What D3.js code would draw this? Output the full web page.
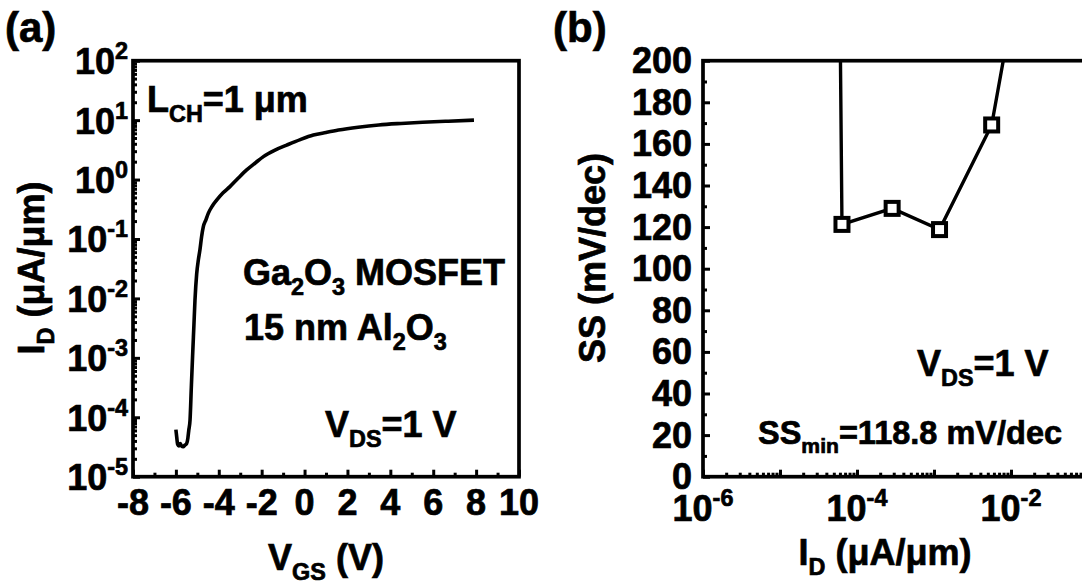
<!DOCTYPE html>
<html>
<head>
<meta charset="utf-8">
<script src="https://cdn.jsdelivr.net/npm/d3@7"></script>
<style>
  body { margin: 0; background: white; }
  svg { display: block; }
  text { font-family: Arial, "Liberation Sans", sans-serif; font-weight: bold; fill: black; stroke: black; stroke-width: 0.7px; }
</style>
</head>
<body>
<div id="chart"></div>
<script>
// (a) transfer curve, V_DS = 1 V
var vgs = [-6.00, -5.96, -5.92, -5.86, -5.80, -5.74, -5.66, -5.58, -5.50, -5.44, -5.40,
  -5.34, -5.28, -5.22, -5.16, -5.11, -5.03, -4.95, -4.88, -4.80, -4.72, -4.60, -4.49,
  -4.30, -4.10, -3.80, -3.48, -3.10, -2.70, -2.30, -1.92, -1.40, -0.83, -0.20, 0.41,
  1.00, 1.58, 2.50, 3.46, 4.50, 5.50, 6.70, 7.90];
var idCurrent = [6.2e-5, 4.6e-5, 3.5e-5, 3.3e-5, 3.6e-5, 3.3e-5, 3.2e-5, 3.4e-5, 3.6e-5, 4.5e-5, 6.0e-5,
  9.0e-5, 3.2e-4, 1.1e-3, 3.5e-3, 9.3e-3, 0.026, 0.045, 0.065, 0.11, 0.161, 0.21, 0.27,
  0.36, 0.45, 0.60, 0.76, 1.05, 1.45, 1.90, 2.43, 3.10, 3.80, 4.70, 5.60,
  6.20, 6.80, 7.60, 8.30, 8.80, 9.20, 9.60, 10.0];

// (b) subthreshold swing vs drain current
var ssCurrent = [5.83e-5, 6.38e-5, 2.86e-4, 1.18e-3, 5.61e-3, 9.7e-3];
var ssValue = [279, 121.3, 129.0, 118.8, 169.1, 218];

var leftXTicks = [-8, -6, -4, -2, 0, 2, 4, 6, 8, 10];
var leftYDecades = [-5, -4, -3, -2, -1, 0, 1, 2];
var rightXDecades = [-6, -5, -4, -3, -2, -1];
var rightXLabelDecades = [-6, -4, -2];
var rightYTicks = [0, 20, 40, 60, 80, 100, 120, 140, 160, 180, 200];

var W = 1082, H = 587;
var fs = 36;
var plotTop = 60.7, plotBottom = 476.7;
var panelA = { left: 133, right: 519 };
var panelB = { left: 703, right: 1088 };

var svg = d3.select("#chart").append("svg")
  .attr("width", W)
  .attr("height", H);

// write text with sub/superscript parts
function richText(g, x, y, parts, size, anchor) {
  var t = g.append("text")
    .attr("x", x)
    .attr("y", y)
    .attr("font-size", size)
    .attr("text-anchor", anchor || "start");
  var shift = 0;
  parts.forEach(function(p) {
    var off = p.sub ? size * 0.28 : (p.sup ? -size * 0.42 : 0);
    t.append("tspan")
      .attr("dy", off - shift)
      .attr("font-size", (p.sub || p.sup) ? size * 0.65 : size)
      .text(p.t);
    shift = off;
  });
  return t;
}

function minorLog(decades) {
  var out = [];
  decades.slice(0, -1).forEach(function(d) {
    for (var k = 2; k <= 9; k++) out.push(k * Math.pow(10, d));
  });
  return out;
}

function styleTicks(g) {
  g.select(".domain").remove();
  g.selectAll("line").attr("stroke", "black").attr("stroke-width", 3);
}

// ---------- panel (a) ----------
var xA = d3.scaleLinear().domain([-8, 10]).range([panelA.left, panelA.right]);
var yA = d3.scaleLog().domain([1e-5, 1e2]).range([plotBottom, plotTop]);

var gA = svg.append("g");

gA.append("g")
  .attr("transform", "translate(0," + plotBottom + ")")
  .call(d3.axisBottom(xA).tickValues(leftXTicks).tickSize(-7).tickFormat(""))
  .call(styleTicks);
gA.append("g")
  .attr("transform", "translate(0," + plotBottom + ")")
  .call(d3.axisBottom(xA).tickValues(d3.range(-7, 10, 2)).tickSize(-4).tickFormat(""))
  .call(styleTicks);
gA.append("g")
  .attr("transform", "translate(" + panelA.left + ",0)")
  .call(d3.axisLeft(yA).tickValues(leftYDecades.map(function(d) { return Math.pow(10, d); })).tickSize(-7).tickFormat(""))
  .call(styleTicks);
gA.append("g")
  .attr("transform", "translate(" + panelA.left + ",0)")
  .call(d3.axisLeft(yA).tickValues(minorLog(leftYDecades)).tickSize(-4).tickFormat(""))
  .call(styleTicks);

gA.append("rect")
  .attr("x", panelA.left)
  .attr("y", plotTop)
  .attr("width", panelA.right - panelA.left)
  .attr("height", plotBottom - plotTop)
  .attr("fill", "none")
  .attr("stroke", "black")
  .attr("stroke-width", 3.7);

leftXTicks.forEach(function(v) {
  gA.append("text")
    .attr("x", xA(v))
    .attr("y", 515)
    .attr("font-size", fs)
    .attr("text-anchor", "middle")
    .text(v);
});
leftYDecades.forEach(function(d) {
  richText(gA, 128, yA(Math.pow(10, d)) + 13.5, [{ t: "10" }, { t: String(d), sup: true }], fs, "end");
});

var lineA = d3.line()
  .x(function(d, i) { return xA(vgs[i]); })
  .y(function(d, i) { return yA(idCurrent[i]); })
  .curve(d3.curveMonotoneX);

gA.append("path")
  .attr("d", lineA(vgs))
  .attr("fill", "none")
  .attr("stroke", "black")
  .attr("stroke-width", 3.6)
  .attr("stroke-linejoin", "round");

richText(gA, 5, 42, [{ t: "(a)" }], 42);
richText(gA, 147, 112, [{ t: "L" }, { t: "CH", sub: true }, { t: "=1 μm" }], fs);
richText(gA, 243, 285, [{ t: "Ga" }, { t: "2", sub: true }, { t: "O" }, { t: "3", sub: true }, { t: " MOSFET" }], fs);
richText(gA, 244, 340, [{ t: "15 nm Al" }, { t: "2", sub: true }, { t: "O" }, { t: "3", sub: true }], fs);
richText(gA, 325, 437, [{ t: "V" }, { t: "DS", sub: true }, { t: "=1 V" }], fs);
richText(gA, (panelA.left + panelA.right) / 2, 570, [{ t: "V" }, { t: "GS", sub: true }, { t: " (V)" }], fs, "middle");

var yTitleA = gA.append("g").attr("transform", "translate(44," + 268 + ") rotate(-90)");
richText(yTitleA, 0, 0, [{ t: "I" }, { t: "D", sub: true }, { t: " (μA/μm)" }], fs, "middle");

// ---------- panel (b) ----------
var xB = d3.scaleLog().domain([1e-6, 1e-1]).range([panelB.left, panelB.right]);
var yB = d3.scaleLinear().domain([0, 200]).range([plotBottom, plotTop]);

var gB = svg.append("g");

gB.append("g")
  .attr("transform", "translate(0," + plotBottom + ")")
  .call(d3.axisBottom(xB).tickValues(rightXDecades.map(function(d) { return Math.pow(10, d); })).tickSize(-7).tickFormat(""))
  .call(styleTicks);
gB.append("g")
  .attr("transform", "translate(0," + plotBottom + ")")
  .call(d3.axisBottom(xB).tickValues(minorLog(rightXDecades)).tickSize(-4).tickFormat(""))
  .call(styleTicks);
gB.append("g")
  .attr("transform", "translate(" + panelB.left + ",0)")
  .call(d3.axisLeft(yB).tickValues(rightYTicks).tickSize(-7).tickFormat(""))
  .call(styleTicks);
gB.append("g")
  .attr("transform", "translate(" + panelB.left + ",0)")
  .call(d3.axisLeft(yB).tickValues(d3.range(10, 200, 20)).tickSize(-4).tickFormat(""))
  .call(styleTicks);

gB.append("rect")
  .attr("x", panelB.left)
  .attr("y", plotTop)
  .attr("width", panelB.right - panelB.left)
  .attr("height", plotBottom - plotTop)
  .attr("fill", "none")
  .attr("stroke", "black")
  .attr("stroke-width", 3.7);

rightYTicks.forEach(function(v) {
  gB.append("text")
    .attr("x", 692)
    .attr("y", yB(v) + 12.5)
    .attr("font-size", fs)
    .attr("text-anchor", "end")
    .text(v);
});
rightXLabelDecades.forEach(function(d) {
  richText(gB, xB(Math.pow(10, d)), 521, [{ t: "10" }, { t: String(d), sup: true }], fs, "middle");
});

svg.append("clipPath")
  .attr("id", "clipB")
  .append("rect")
  .attr("x", panelB.left)
  .attr("y", plotTop)
  .attr("width", panelB.right - panelB.left)
  .attr("height", plotBottom - plotTop);

var plotB = gB.append("g").attr("clip-path", "url(#clipB)");

var lineB = d3.line()
  .x(function(d, i) { return xB(ssCurrent[i]); })
  .y(function(d, i) { return yB(ssValue[i]); });

plotB.append("path")
  .attr("d", lineB(ssCurrent))
  .attr("fill", "none")
  .attr("stroke", "black")
  .attr("stroke-width", 3.4);

var sq = 13;
plotB.selectAll(".marker")
  .data(ssCurrent)
  .enter()
  .append("rect")
  .attr("class", "marker")
  .attr("x", function(d) { return xB(d) - sq / 2; })
  .attr("y", function(d, i) { return yB(ssValue[i]) - sq / 2; })
  .attr("width", sq)
  .attr("height", sq)
  .attr("fill", "white")
  .attr("stroke", "black")
  .attr("stroke-width", 4);

richText(gB, 553, 42, [{ t: "(b)" }], 42);
richText(gB, 917, 376, [{ t: "V" }, { t: "DS", sub: true }, { t: "=1 V" }], fs);
richText(gB, 758, 444, [{ t: "SS" }, { t: "min", sub: true }, { t: "=118.8 mV/dec" }], 32.5);
richText(gB, 885, 565, [{ t: "I" }, { t: "D", sub: true }, { t: " (μA/μm)" }], fs, "middle");

var yTitleB = gB.append("g").attr("transform", "translate(605," + 258 + ") rotate(-90)");
richText(yTitleB, 0, 0, [{ t: "SS (mV/dec)" }], fs, "middle");
</script>
</body>
</html>
